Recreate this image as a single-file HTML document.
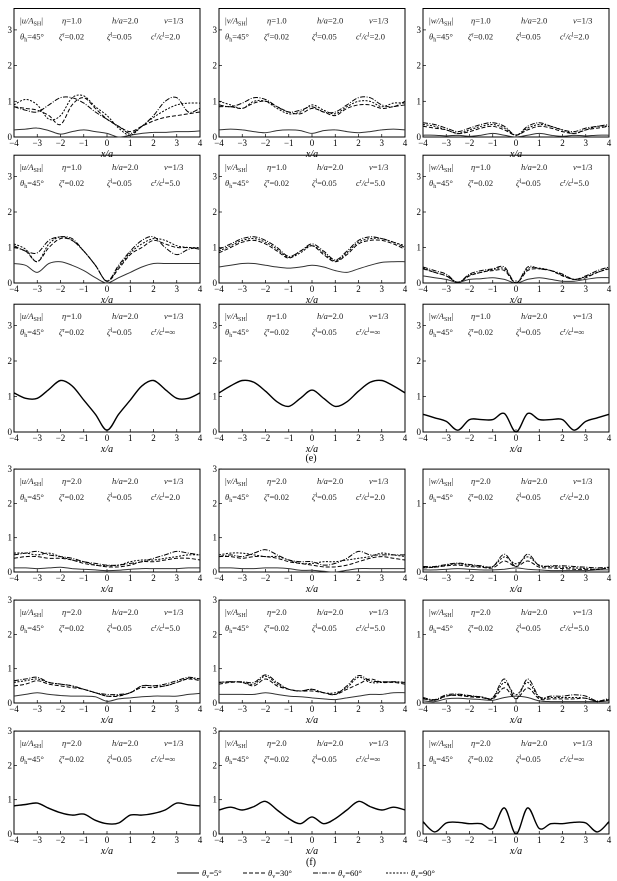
<!DOCTYPE html><html><head><meta charset="utf-8"><style>
body{margin:0;background:#fff}
svg{display:block;font-family:"Liberation Serif",serif}
</style></head><body>
<svg id="s" width="617" height="881" viewBox="0 0 617 881" xmlns="http://www.w3.org/2000/svg"></svg>
<script>
const S=document.getElementById('s');let h='';
const cols=[14,219,423],W=186;
const rows=[{z:137,u:35.7,top:3.6},{z:283,u:35.5,top:3.6},{z:432,u:35.5,top:3.6},{z:572,u:34.3,top:3},{z:703,u:34.3,top:3},{z:834,u:34.3,top:3}];
const styles=['','4,2','5,1.5,1,1.5','2,1.5'];
const rat=['2.0','5.0','∞','2.0','5.0','∞'];
const D=[
[[[.2,.22,.25,.18,.08,.15,.2,.15,.1,0,.05,.1,.13,.13,.15,.15,.17],[.85,.8,.75,.6,.35,.9,1.1,.8,.5,.3,.15,.3,.45,.55,.6,.65,.7],[.85,.75,.7,.9,1.1,1.1,.95,.7,.5,.3,.1,.3,.6,1.0,1.1,.7,.8],[.9,1.05,.9,.5,.6,1.1,1.15,.85,.6,.25,.05,.3,.55,.75,.9,.95,.95]],
 [[.2,.22,.2,.15,.12,.18,.2,.18,.1,.18,.2,.15,.12,.15,.2,.22,.2],[.85,.85,.8,.95,1.0,.85,.7,.65,.8,.7,.6,.8,.9,.9,.8,.85,.9],[.9,.85,.95,1.1,1.05,.85,.7,.75,.85,.7,.7,.9,1.1,1.1,.9,.85,1.0],[1.0,.9,.8,1.0,1.0,.8,.65,.7,.9,.75,.65,.85,1.0,1.0,.85,.95,.95]],
 [[.05,.05,.03,.05,.02,.05,.1,.05,0,.05,.1,.05,.02,.05,.03,.05,.05],[.3,.25,.2,.1,.15,.25,.3,.2,.05,.2,.3,.25,.15,.1,.2,.25,.3],[.4,.35,.25,.15,.25,.35,.4,.3,.05,.3,.4,.3,.2,.15,.25,.3,.35],[.35,.3,.2,.1,.2,.3,.35,.25,.05,.25,.35,.3,.2,.1,.2,.3,.3]]],
[[[.55,.5,.3,.55,.6,.5,.35,.15,0,.15,.3,.45,.55,.55,.55,.55,.55],[1.0,.9,.6,1.0,1.25,1.2,.9,.5,.05,.4,.8,1.0,1.2,1.1,1.0,1.0,.95],[1.05,.9,.85,1.2,1.3,1.25,.9,.5,.05,.5,.9,1.2,1.3,1.0,.8,.95,1.0],[1.1,.95,.6,1.1,1.3,1.2,.9,.5,.05,.45,.85,1.1,1.25,1.2,1.05,1.0,1.0]],
 [[.45,.5,.55,.55,.5,.45,.42,.45,.5,.45,.35,.3,.4,.5,.58,.6,.6],[.85,1.0,1.15,1.2,1.1,.9,.7,.9,1.05,.8,.6,.8,1.1,1.2,1.2,1.1,.95],[.95,1.1,1.25,1.3,1.2,1.0,.75,.9,1.1,.9,.65,.9,1.2,1.3,1.25,1.15,1.0],[.9,1.05,1.2,1.25,1.15,.95,.72,.85,1.05,.85,.62,.85,1.15,1.25,1.25,1.15,1.05]],
 [[.2,.15,.1,.02,.1,.12,.15,.1,0,.1,.15,.1,.05,.05,.1,.15,.15],[.4,.3,.2,.02,.2,.3,.35,.35,0,.35,.4,.35,.2,.1,.15,.3,.4],[.45,.35,.25,.02,.25,.35,.4,.45,0,.45,.4,.35,.25,.1,.2,.35,.45],[.42,.3,.2,.02,.22,.3,.38,.4,0,.4,.42,.35,.22,.1,.18,.3,.42]]],
[[[1.1,.95,.95,1.2,1.45,1.3,.9,.5,.05,.5,.9,1.3,1.45,1.2,.95,.95,1.1]],
 [[1.1,1.3,1.45,1.4,1.15,.85,.72,.95,1.18,.95,.72,.85,1.15,1.4,1.45,1.3,1.1]],
 [[.5,.4,.3,.05,.35,.35,.35,.52,0,.52,.35,.35,.35,.05,.3,.4,.5]]],
[[[.12,.12,.1,.12,.14,.1,.08,.06,.04,.05,.08,.1,.1,.1,.1,.12,.12],[.4,.45,.45,.4,.4,.35,.25,.2,.15,.15,.2,.3,.3,.35,.4,.4,.35],[.5,.55,.6,.5,.45,.4,.3,.25,.2,.2,.25,.3,.4,.5,.6,.55,.5],[.55,.55,.5,.55,.45,.35,.3,.2,.18,.2,.3,.35,.35,.4,.45,.5,.5]],
 [[.12,.12,.1,.1,.12,.12,.1,.05,.05,.02,.0,.05,.1,.1,.1,.1,.1],[.45,.45,.4,.45,.45,.4,.3,.25,.2,.15,.15,.2,.3,.4,.45,.4,.35],[.45,.5,.45,.55,.65,.5,.35,.3,.3,.2,.25,.4,.6,.5,.5,.5,.5],[.5,.55,.55,.5,.45,.45,.35,.25,.25,.3,.3,.35,.4,.45,.55,.5,.45]],
 [[.03,.03,.04,.05,.04,.03,.03,.04,.06,.04,.03,.02,.02,.02,.02,.03,.03],[.06,.07,.09,.1,.08,.07,.06,.16,.08,.16,.07,.06,.05,.04,.04,.04,.06],[.08,.08,.11,.13,.11,.09,.08,.26,.08,.26,.09,.09,.09,.08,.07,.06,.07],[.07,.07,.1,.12,.1,.08,.08,.22,.12,.22,.1,.08,.07,.06,.05,.04,.06]]],
[[[.2,.25,.3,.25,.22,.2,.2,.18,.05,.12,.15,.18,.2,.2,.2,.25,.28],[.5,.55,.65,.55,.5,.45,.4,.3,.2,.2,.3,.45,.45,.5,.6,.7,.65],[.65,.7,.75,.6,.55,.5,.4,.3,.25,.25,.3,.5,.5,.55,.65,.75,.7],[.6,.65,.7,.6,.55,.5,.4,.3,.2,.22,.3,.5,.5,.5,.6,.72,.7]],
 [[.25,.25,.25,.25,.3,.25,.2,.18,.15,.12,.1,.15,.2,.25,.25,.3,.3],[.55,.6,.6,.5,.7,.5,.4,.35,.35,.3,.25,.4,.55,.7,.6,.6,.55],[.6,.62,.62,.6,.82,.6,.4,.35,.4,.3,.25,.5,.8,.65,.62,.62,.6],[.6,.62,.6,.55,.78,.55,.4,.35,.4,.3,.3,.45,.75,.6,.6,.62,.6]],
 [[.03,.02,.06,.07,.06,.05,.04,.08,.1,.08,.03,.02,.02,.02,.02,.02,.03],[.06,.04,.1,.11,.09,.08,.06,.22,.06,.22,.06,.06,.06,.06,.07,.02,.05],[.08,.05,.12,.13,.11,.09,.08,.35,.06,.35,.09,.1,.1,.12,.1,.03,.07],[.07,.04,.1,.12,.1,.09,.07,.3,.12,.3,.08,.08,.08,.08,.07,.02,.05]]],
[[[.82,.86,.9,.75,.62,.55,.58,.4,.3,.32,.55,.55,.6,.7,.9,.85,.82]],
 [[.7,.78,.7,.8,.95,.7,.45,.3,.5,.3,.45,.7,.95,.8,.7,.78,.7]],
 [[.18,.03,.16,.17,.15,.15,.08,.38,.0,.38,.08,.15,.15,.17,.16,.03,.18]]]];
function path(px,py){let d='M'+px[0].toFixed(1)+','+py[0].toFixed(1);for(let i=0;i<px.length-1;i++){const p0=Math.max(0,i-1),p3=Math.min(px.length-1,i+2);
const c1x=px[i]+(px[i+1]-px[p0])/6,c1y=py[i]+(py[i+1]-py[p0])/6,c2x=px[i+1]-(px[p3]-px[i])/6,c2y=py[i+1]-(py[p3]-py[i])/6;
d+=` C${c1x.toFixed(1)},${c1y.toFixed(1)} ${c2x.toFixed(1)},${c2y.toFixed(1)} ${px[i+1].toFixed(1)},${py[i+1].toFixed(1)}`;}return d;}
const vars=['u','v','w'];
rows.forEach((r,ri)=>{cols.forEach((x0,ci)=>{
 let unit=r.u,topv=r.top,ticks=[0,1,2,3];
 if(ri>=3&&ci==2){unit=r.u*2;topv=1.5;ticks=[0,1];}
 const y0=r.z,yt=y0-topv*unit;
 h+=`<rect x="${x0}" y="${yt.toFixed(1)}" width="${W}" height="${(y0-yt).toFixed(1)}" fill="none" stroke="#000" stroke-width="1"/>`;
 for(let k=-4;k<=4;k++){const xx=x0+(k+4)*W/8;h+=`<line x1="${xx}" y1="${y0}" x2="${xx}" y2="${y0-3}" stroke="#000" stroke-width=".7"/>`;
  h+=`<text x="${xx}" y="${y0+9}" font-size="9" text-anchor="middle">${k<0?'−'+(-k):k}</text>`;}
 ticks.forEach(t=>{const yy=y0-t*unit;h+=`<line x1="${x0}" y1="${yy}" x2="${x0+3}" y2="${yy}" stroke="#000" stroke-width=".7"/><text x="${x0-2}" y="${yy+3}" font-size="9" text-anchor="end">${t}</text>`;});
 h+=`<text x="${x0+W/2}" y="${y0+20}" font-size="10" font-style="italic" text-anchor="middle">x/a</text>`;
 const eta=ri<3?'1.0':'2.0';
 h+=`<text x="${x0+6}" y="${yt+15}" font-size="8.5" fill="#222">|<tspan font-style="italic">${vars[ci]}/A</tspan><tspan font-size="6" dy="2">SH</tspan><tspan dy="-2">|</tspan></text>`;
 h+=`<text x="${x0+48}" y="${yt+15}" font-size="8.5" fill="#222"><tspan font-style="italic">η</tspan>=${eta}</text>`;
 h+=`<text x="${x0+98}" y="${yt+15}" font-size="8.5" fill="#222"><tspan font-style="italic">h/a</tspan>=2.0</text>`;
 h+=`<text x="${x0+150}" y="${yt+15}" font-size="8.5" fill="#222"><tspan font-style="italic">v</tspan>=1/3</text>`;
 h+=`<text x="${x0+6}" y="${yt+31}" font-size="8.5" fill="#222"><tspan font-style="italic">θ</tspan><tspan font-size="6" dy="2">h</tspan><tspan dy="-2">=45°</tspan></text>`;
 h+=`<text x="${x0+45}" y="${yt+31}" font-size="8.5" fill="#222"><tspan font-style="italic">ζ</tspan><tspan font-size="6" dy="-3">r</tspan><tspan dy="3">=0.02</tspan></text>`;
 h+=`<text x="${x0+93}" y="${yt+31}" font-size="8.5" fill="#222"><tspan font-style="italic">ζ</tspan><tspan font-size="6" dy="-3">l</tspan><tspan dy="3">=0.05</tspan></text>`;
 h+=`<text x="${x0+137}" y="${yt+31}" font-size="8.5" fill="#222"><tspan font-style="italic">c</tspan><tspan font-size="6" dy="-3">r</tspan><tspan dy="3" font-style="italic">/c</tspan><tspan font-size="6" dy="-3">l</tspan><tspan dy="3">=${rat[ri]}</tspan></text>`;
 D[ri][ci].forEach((ys,si)=>{const px=ys.map((_,i)=>x0+i*W/16),py=ys.map(v=>y0-v*unit);
  const st=D[ri][ci].length==1?'':styles[si];
  h+=`<path d="${path(px,py)}" fill="none" stroke="${si==0&&st===''&&D[ri][ci].length>1?'#333':'#000'}" stroke-width="${D[ri][ci].length==1?1.4:1}" ${st?`stroke-dasharray="${st}"`:''}/>`;});
});});
h+=`<text x="311" y="461" font-size="10" text-anchor="middle">(e)</text><text x="311" y="865" font-size="10" text-anchor="middle">(f)</text>`;
const lg=[[177,'5°'],[243,'30°'],[313,'60°'],[386,'90°']];
lg.forEach((l,i)=>{h+=`<line x1="${l[0]}" y1="873" x2="${l[0]+22}" y2="873" stroke="#000" stroke-width="1" ${styles[i]?`stroke-dasharray="${styles[i]}"`:''}/><text x="${l[0]+25}" y="876" font-size="8.5"><tspan font-style="italic">θ</tspan><tspan font-size="6" dy="2">v</tspan><tspan dy="-2">=${l[1]}</tspan></text>`;});
S.innerHTML=h;
</script>
</body></html>
